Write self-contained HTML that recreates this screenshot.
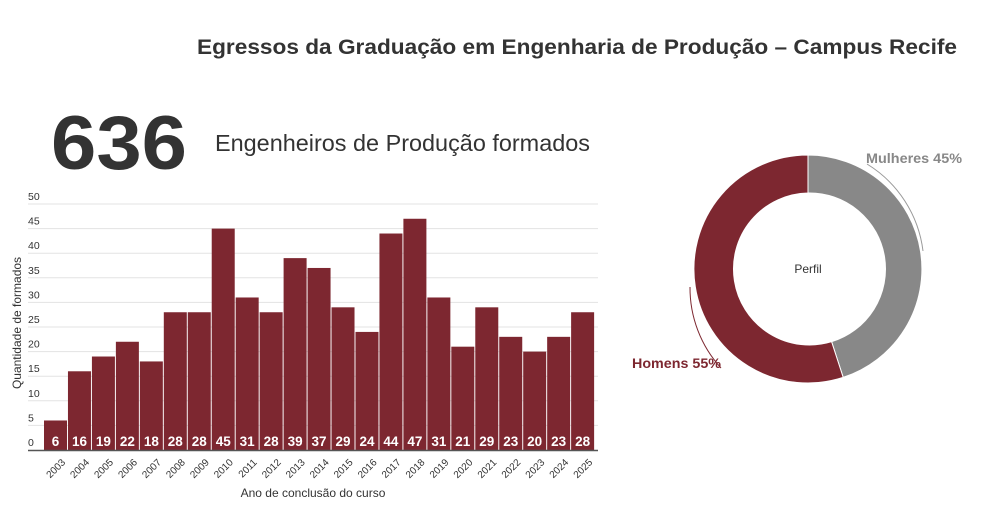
<!DOCTYPE html>
<html><head><meta charset="utf-8"><style>
body{margin:0;background:#fff;}
svg{display:block;font-family:"Liberation Sans",sans-serif;}
</style></head><body>
<svg id="s" width="995" height="506" viewBox="0 0 995 506" xmlns="http://www.w3.org/2000/svg">
<text x="197" y="54" font-size="21" font-weight="bold" fill="#333" textLength="760" lengthAdjust="spacingAndGlyphs">Egressos da Graduação em Engenharia de Produção – Campus Recife</text>
<text x="51" y="169" font-size="76" font-weight="bold" fill="#333" textLength="136" lengthAdjust="spacingAndGlyphs">636</text>
<text x="215" y="151" font-size="23" fill="#333" textLength="375" lengthAdjust="spacingAndGlyphs">Engenheiros de Produção formados</text>
<g id="grid"></g>
<g id="bars"></g>
<line x1="28" y1="450.5" x2="598" y2="450.5" stroke="#555" stroke-width="1.5"/>
<text transform="translate(21,323) rotate(-90)" text-anchor="middle" font-size="12" fill="#333">Quantidade de formados</text>
<text x="313" y="497" text-anchor="middle" font-size="12" fill="#333">Ano de conclusão do curso</text>
<path d="M808 155 A114 114 0 0 1 843.2 377.4 L831.6 341.7 A76 76 0 0 0 808 193 Z" fill="#888" stroke="#fff" stroke-width="1"/>
<path d="M843.2 377.4 A114 114 0 1 1 808 155 L808 193 A76 76 0 1 0 831.6 341.7 Z" fill="#7d2730" stroke="#fff" stroke-width="1"/>
<text x="808" y="273" text-anchor="middle" font-size="12" fill="#333">Perfil</text>
<path d="M867 164 A119 119 0 0 1 923 251" fill="none" stroke="#999" stroke-width="1"/>
<path d="M690 287 A119 119 0 0 0 721 368" fill="none" stroke="#7d2730" stroke-width="1"/>
<text x="866" y="163" font-size="13.5" fill="#888" font-weight="bold" textLength="96" lengthAdjust="spacingAndGlyphs">Mulheres 45%</text>
<text x="632" y="368" font-size="13.5" fill="#7d2730" font-weight="bold" textLength="89" lengthAdjust="spacingAndGlyphs">Homens 55%</text>
</svg>
<script>
var ns="http://www.w3.org/2000/svg";
function el(p,t,a,txt){var e=document.createElementNS(ns,t);for(var k in a)e.setAttribute(k,a[k]);if(txt!=null)e.textContent=txt;p.appendChild(e);return e;}
var g=document.getElementById('grid'),b=document.getElementById('bars');
var y0=450,k=4.92;
for(var v=0;v<=50;v+=5){var y=y0-v*k;if(v>0)el(g,'line',{x1:28,x2:598,y1:y,y2:y,stroke:'#e3e3e3','stroke-width':1});
el(g,'text',{x:28,y:y-4,'font-size':10.5,fill:'#333'},v);}
var d=[6,16,19,22,18,28,28,45,31,28,39,37,29,24,44,47,31,21,29,23,20,23,28];
for(var i=0;i<d.length;i++){var x=44+i*23.96,h=d[i]*k;
el(b,'rect',{x:x,y:y0-h,width:23,height:h,fill:'#7d2730'});
el(b,'text',{x:x+11.5,y:y0-4,'text-anchor':'middle','font-size':13.5,'font-weight':'bold',fill:'#fff'},d[i]);
var tx=x+17,ty=y0+8;
el(b,'text',{x:tx,y:ty,'text-anchor':'end','font-size':10,fill:'#333',transform:'rotate(-45 '+tx+' '+ty+')',dy:'0.7em'},2003+i);}
</script>
</body></html>
